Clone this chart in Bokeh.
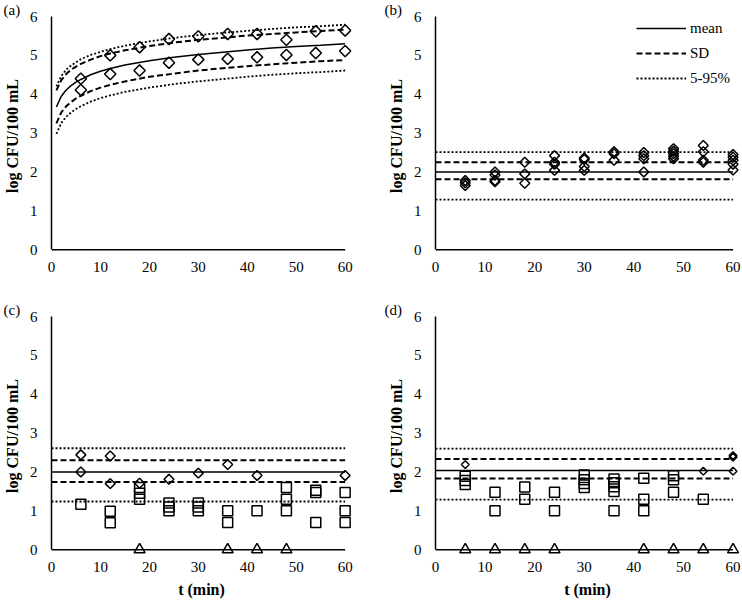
import numpy as np
from bokeh.plotting import figure
from bokeh.layouts import gridplot
from bokeh.models import Range1d, FixedTicker, Legend, LegendItem
from bokeh.embed import file_html
from bokeh.resources import INLINE

FONT = "Liberation Serif"

# ---------------- data ----------------
x_ticks = [0, 10, 20, 30, 40, 50, 60]
y_ticks = [0, 1, 2, 3, 4, 5, 6]
panel_labels = ["(a)", "(b)", "(c)", "(d)"]
y_title = "log CFU/100 mL"
x_title = "t (min)"
legend_labels = ["mean", "SD", "5-95%"]

# Panel (a): fitted curves
a_t = [1, 2, 3, 4, 5, 6, 8, 10, 12, 15, 20, 25, 30, 35, 40, 45, 50, 55, 60]
a_mean = [3.67, 3.95, 4.11, 4.22, 4.31, 4.38, 4.50, 4.59, 4.66, 4.75, 4.86, 4.95, 5.02, 5.08, 5.14, 5.19, 5.23, 5.26, 5.30]
a_sd_hi = [4.10, 4.36, 4.52, 4.63, 4.71, 4.78, 4.89, 4.98, 5.05, 5.13, 5.24, 5.33, 5.40, 5.45, 5.51, 5.55, 5.59, 5.63, 5.66]
a_sd_lo = [3.25, 3.53, 3.69, 3.80, 3.89, 3.96, 4.08, 4.17, 4.24, 4.33, 4.45, 4.53, 4.61, 4.67, 4.72, 4.77, 4.81, 4.85, 4.88]
a_p95 = [4.20, 4.47, 4.63, 4.74, 4.82, 4.90, 5.01, 5.09, 5.16, 5.25, 5.36, 5.45, 5.52, 5.58, 5.63, 5.68, 5.72, 5.75, 5.79]
a_p5 = [2.98, 3.26, 3.42, 3.53, 3.62, 3.69, 3.81, 3.90, 3.97, 4.06, 4.17, 4.26, 4.33, 4.39, 4.45, 4.50, 4.54, 4.57, 4.61]
# Panel (a): observations (diamonds)
a_obs_t = [6, 6, 12, 12, 18, 18, 24, 24, 30, 30, 36, 36, 42, 42, 48, 48, 54, 54, 60, 60]
a_obs_y = [4.40, 4.11, 5.00, 4.52, 5.21, 4.61, 5.42, 4.81, 5.49, 4.89, 5.55, 4.91, 5.55, 4.95, 5.40, 5.01, 5.62, 5.06, 5.64, 5.11]

# Panel (b)
b_levels = {"p95": 2.51, "sd_hi": 2.25, "mean": 2.00, "sd_lo": 1.81, "p5": 1.29}
b_dia_t = [6, 6, 6, 12, 12, 12, 12, 18, 18, 18, 24, 24, 24, 24, 30, 30, 30, 30,
           36, 36, 36, 42, 42, 42, 42, 48, 48, 48, 48, 48, 54, 54, 54, 54, 60, 60, 60, 60, 60]
b_dia_y = [1.78, 1.72, 1.65, 2.00, 1.92, 1.78, 1.75, 2.25, 1.95, 1.71, 2.42, 2.25, 2.20, 2.04,
           2.36, 2.32, 2.14, 2.04, 2.52, 2.47, 2.30, 2.50, 2.42, 2.34, 2.00,
           2.60, 2.53, 2.47, 2.40, 2.34, 2.68, 2.52, 2.30, 2.25, 2.45, 2.38, 2.30, 2.20, 2.05]

# Panel (c)
c_levels = {"p95": 2.61, "sd_hi": 2.30, "mean": 2.00, "sd_lo": 1.74, "p5": 1.24}
c_dia_t = [6, 6, 12, 12, 18, 24, 30, 36, 42, 60]
c_dia_y = [2.44, 2.00, 2.41, 1.70, 1.71, 1.81, 1.97, 2.19, 1.91, 1.91]
c_sq_t = [6, 12, 12, 18, 18, 18, 24, 24, 24, 30, 30, 30, 36, 36, 42, 48, 48, 48, 54, 54, 54, 60, 60, 60]
c_sq_y = [1.17, 0.99, 0.69, 1.60, 1.45, 1.30, 1.20, 1.10, 1.00, 1.20, 1.10, 1.00, 1.00, 0.70,
          1.00, 1.60, 1.30, 1.00, 1.53, 1.47, 0.70, 1.47, 1.00, 0.70]
c_tri_t = [18, 36, 42, 48]
c_tri_y = [0, 0, 0, 0]

# Panel (d)
d_levels = {"p95": 2.60, "sd_hi": 2.33, "mean": 2.04, "sd_lo": 1.83, "p5": 1.29}
d_dia_t = [6, 54, 60, 60, 60]
d_dia_y = [2.19, 2.02, 2.42, 2.38, 2.02]
d_sq_t = [6, 6, 6, 12, 12, 18, 18, 24, 24, 30, 30, 30, 30, 36, 36, 36, 36, 36, 42, 42, 42, 48, 48, 48, 54]
d_sq_y = [1.89, 1.78, 1.68, 1.48, 1.00, 1.61, 1.30, 1.48, 1.00, 1.92, 1.80, 1.70, 1.60,
          1.82, 1.72, 1.62, 1.50, 1.00, 1.84, 1.30, 1.00, 1.90, 1.80, 1.48, 1.30]
d_tri_t = [6, 12, 18, 24, 42, 48, 54, 60]
d_tri_y = [0, 0, 0, 0, 0, 0, 0, 0]

X_MIN, X_MAX = 0, 60
Y_MIN, Y_MAX = 0, 6

SOLID = dict(line_color="black", line_width=1.5)
DASHED = dict(line_color="black", line_width=2, line_dash="6 3")
DOTTED = dict(line_color="black", line_width=1.8, line_dash="2 2")


def make_fig(width, height, left, right, top, bottom, with_xtitle, label, label_offset):
    p = figure(width=width, height=height, output_backend="svg", toolbar_location=None,
               title=label,
               x_range=Range1d(X_MIN, 61.3), y_range=Range1d(-0.15, Y_MAX),
               min_border_left=left, min_border_right=right,
               min_border_top=top, min_border_bottom=bottom)
    p.title.align = "left"
    p.title.offset = label_offset
    p.title.standoff = -3
    p.title.text_font = FONT
    p.title.text_font_size = "15px"
    p.title.text_font_style = "normal"
    p.title.text_color = "black"
    p.outline_line_color = None
    p.xgrid.visible = False
    p.ygrid.visible = False
    p.background_fill_color = "white"
    p.border_fill_color = "white"
    for ax in (p.xaxis[0], p.yaxis[0]):
        ax.major_tick_line_color = None
        ax.minor_tick_line_color = None
        ax.major_label_text_font = FONT
        ax.major_label_text_font_size = "15px"
        ax.major_label_text_color = "black"
        ax.axis_label_text_font = FONT
        ax.axis_label_text_font_size = "16px"
        ax.axis_label_text_font_style = "bold"
        ax.axis_label_text_color = "black"
    xa = p.xaxis[0]
    xa.ticker = FixedTicker(ticks=x_ticks)
    xa.axis_line_color = None
    xa.major_label_standoff = 0
    if with_xtitle:
        xa.axis_label = x_title
        xa.axis_label_standoff = 6
    ya = p.yaxis[0]
    ya.ticker = FixedTicker(ticks=y_ticks)
    ya.bounds = (Y_MIN, Y_MAX)
    ya.axis_line_color = "black"
    ya.axis_line_width = 1.5
    ya.major_label_standoff = 8
    ya.axis_label = y_title
    ya.axis_label_standoff = 6
    # x-axis line drawn at y = 0
    p.segment(x0=[X_MIN], y0=[Y_MIN], x1=[X_MAX], y1=[Y_MIN], line_color="black", line_width=1.5)
    return p


def add_levels(p, lv):
    xs = [X_MIN, X_MAX]
    p.line(xs, [lv["p95"]] * 2, **DOTTED)
    r_hi = p.line(xs, [lv["sd_hi"]] * 2, **DASHED)
    r_mean = p.line(xs, [lv["mean"]] * 2, **SOLID)
    p.line(xs, [lv["sd_lo"]] * 2, **DASHED)
    r_p5 = p.line(xs, [lv["p5"]] * 2, **DOTTED)
    return r_mean, r_hi, r_p5


def diamonds(p, t, y, size):
    p.scatter(t, y, marker="square", angle=np.pi / 4, size=size, fill_color=None,
              line_color="black", line_width=1.5)


def squares(p, t, y):
    p.scatter(t, y, marker="square", size=10, fill_color=None, line_color="black", line_width=1.5)


def triangles(p, t, y):
    p.scatter(t, y, marker="triangle", size=11, fill_color=None, line_color="black", line_width=1.5)


W1, W2 = 371, 371
H1, H2 = 300, 300

# (a)
pa = make_fig(W1, H1, 47, 20, 16, 45, False, panel_labels[0], -48)
pa.line(a_t, a_p95, **DOTTED)
pa.line(a_t, a_sd_hi, **DASHED)
pa.line(a_t, a_mean, **SOLID)
pa.line(a_t, a_sd_lo, **DASHED)
pa.line(a_t, a_p5, **DOTTED)
diamonds(pa, a_obs_t, a_obs_y, 8)

# (b)
pb = make_fig(W2, H1, 64, 3, 16, 45, False, panel_labels[1], -51)
r_mean, r_sd, r_pct = add_levels(pb, b_levels)
diamonds(pb, b_dia_t, b_dia_y, 7)
leg = Legend(items=[LegendItem(label=legend_labels[0], renderers=[r_mean]),
                    LegendItem(label=legend_labels[1], renderers=[r_sd]),
                    LegendItem(label=legend_labels[2], renderers=[r_pct])],
             location=(201, 167), margin=0, padding=0, spacing=5,
             glyph_width=50, glyph_height=20, label_height=20, label_standoff=4,
             label_text_font=FONT, label_text_font_size="15px", label_text_color="black",
             border_line_color=None, background_fill_alpha=0)
pb.add_layout(leg)

# (c)
pc = make_fig(W1, H2, 47, 20, 16, 45, True, panel_labels[2], -48)
add_levels(pc, c_levels)
squares(pc, c_sq_t, c_sq_y)
triangles(pc, c_tri_t, c_tri_y)
diamonds(pc, c_dia_t, c_dia_y, 7)

# (d)
pd_ = make_fig(W2, H2, 64, 3, 16, 45, True, panel_labels[3], -51)
add_levels(pd_, d_levels)
squares(pd_, d_sq_t, d_sq_y)
triangles(pd_, d_tri_t, d_tri_y)
diamonds(pd_, d_dia_t, d_dia_y, 5.5)

layout = gridplot([[pa, pb], [pc, pd_]], toolbar_location=None)

open("out.html", "w").write(file_html(layout, INLINE))
